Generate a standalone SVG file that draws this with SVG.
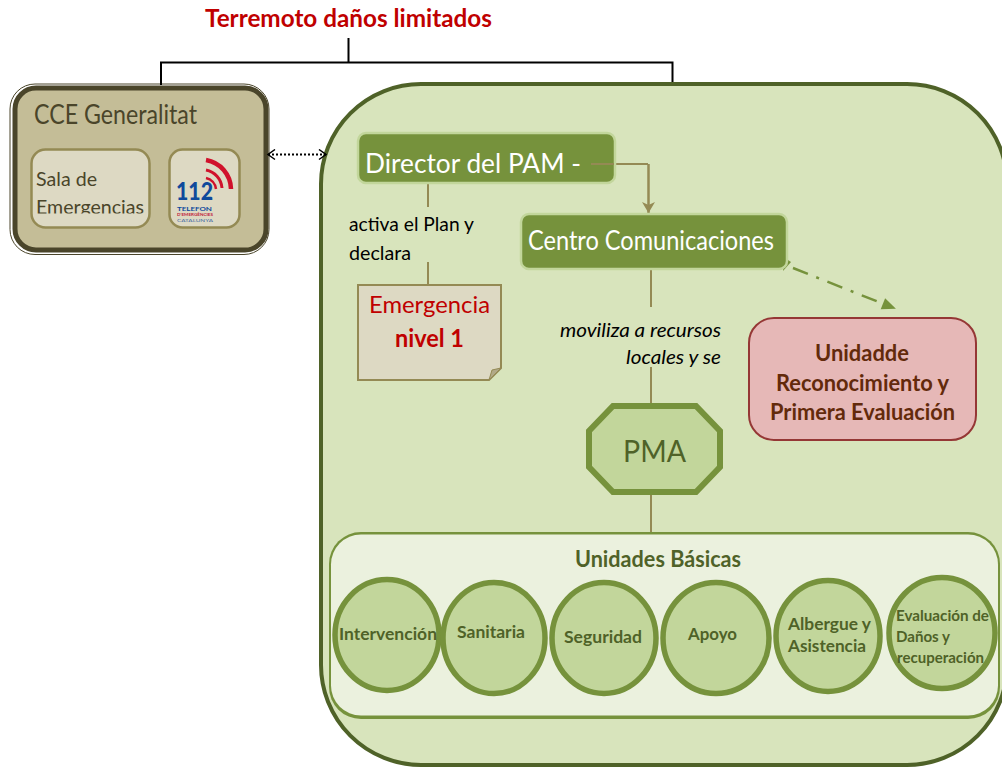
<svg xmlns="http://www.w3.org/2000/svg" width="1002" height="767" viewBox="0 0 1002 767">
<style>
text{font-family:"Lato","Open Sans","Liberation Sans",sans-serif}
.l{fill:none;stroke:#948a54;stroke-width:2}
.c{fill:#c2d69b;stroke:#76923c;stroke-width:5.500}
.u{font-weight:700;fill:#4f6228;font-size:17.500px}
.s{font-size:16px;font-weight:700;fill:#4f6228}
.w{fill:#fff;font-size:27px}
.k{fill:#000;font-size:20px}
.i{fill:#000;font-size:20px;font-style:italic}
.r{font-weight:700;fill:#632a0b;font-size:22px}
.h{fill:#ddd9c3;stroke:#948a54;stroke-width:2.500}
</style>
<defs>
<marker id="a1" markerWidth="16" markerHeight="14" refX="12" refY="7" orient="auto" markerUnits="userSpaceOnUse"><path d="M1 .5L12 7L1 13.500L4 7Z" fill="#948a54"/></marker>
<marker id="a2" markerWidth="16" markerHeight="14" refX="14" refY="7" orient="auto" markerUnits="userSpaceOnUse"><path d="M1 1L15 7L1 13Z" fill="#76923c"/></marker>
<marker id="a3" markerWidth="10" markerHeight="12" refX="8" refY="6" orient="auto-start-reverse" markerUnits="userSpaceOnUse"><path d="M1 1L8 6L1 11" fill="none" stroke="#000" stroke-width="1.500"/></marker>
<clipPath id="sala"><rect x="31" y="149" width="118" height="64.500"/></clipPath>
</defs>
<rect width="1002" height="767" fill="#fff"/>
<g id="title"><text x="205" y="27" font-size="24" font-weight="700" fill="#c00000" textLength="287" lengthAdjust="spacingAndGlyphs">Terremoto daños limitados</text></g>
<g id="pam"><rect x="321" y="84" width="686" height="681" rx="100" fill="#d8e4bc" stroke="#4f6228" stroke-width="4"/></g>
<g id="cce">
<rect x="10" y="84" width="259" height="170.500" rx="25" fill="#fff" stroke="#4a452a" stroke-width="1"/>
<rect x="15" y="88" width="251" height="162" rx="21" fill="#c4bd97" stroke="#4a452a" stroke-width="5"/>
<text x="34" y="124" font-size="26" fill="#4a452a" textLength="163" lengthAdjust="spacingAndGlyphs">CCE Generalitat</text>
</g>
<g id="sala-emergencias">
<rect x="31.500" y="149.500" width="118" height="78" rx="14" class="h"/>
<g clip-path="url(#sala)"><text x="36" y="186" font-size="20" fill="#4a452a" textLength="61" lengthAdjust="spacingAndGlyphs">Sala de</text>
<text x="36" y="214" font-size="20" fill="#4a452a" textLength="108" lengthAdjust="spacingAndGlyphs">Emergencias</text></g>
</g>
<g id="tel112">
<rect x="169.500" y="149.500" width="70" height="78" rx="13" class="h"/>
<path d="M206 160A30 30 0 0 1 231 189" fill="none" stroke="#d0112b" stroke-width="4.500"/>
<path d="M206 170A20 20 0 0 1 222 188" fill="none" stroke="#d0112b" stroke-width="3"/>
<path d="M206 178A13 13 0 0 1 216 189" fill="none" stroke="#d0112b" stroke-width="2.500"/>
<text x="176" y="200" font-size="24" font-weight="900" fill="#0f4a9c" textLength="37" lengthAdjust="spacingAndGlyphs">112</text>
<text x="177" y="210.500" font-size="5" font-weight="700" fill="#0f4a9c" textLength="35" lengthAdjust="spacingAndGlyphs">TELEFON</text>
<text x="177" y="216" font-size="4.500" font-weight="700" fill="#c0203c" textLength="36" lengthAdjust="spacingAndGlyphs">D'EMERGÈNCIES</text>
<text x="177" y="221.500" font-size="4.500" fill="#4a6fa5" textLength="36" lengthAdjust="spacingAndGlyphs">CATALUNYA</text>
</g>
<g id="connectors">
<path d="M348.500 38V62.500M161 85V62.500H672.500V82" fill="none" stroke="#000" stroke-width="2"/>
<path d="M268 154.500H326" fill="none" stroke="#000" stroke-width="2" stroke-dasharray="2 2" marker-start="url(#a3)" marker-end="url(#a3)"/>
<path d="M591 164H648" class="l"/>
<path d="M648.500 164V213" fill="none" stroke="#948a54" stroke-width="2.500" marker-end="url(#a1)"/>
<path d="M428 184V207M428 262V285M651 270V307M651 367V404M651 495V533" class="l"/>
<path d="M793 268L895 308.500" fill="none" stroke="#76923c" stroke-width="2.500" stroke-dasharray="16 9 3 9" marker-end="url(#a2)"/>
<path d="M785 258L791 262L783 271Z" fill="#76923c"/>
</g>
<g id="director"><rect x="358" y="133" width="257" height="50" rx="8" fill="#76923c" stroke="#c2d69b" stroke-width="2.500"/>
<text x="365" y="173" class="w" textLength="216" lengthAdjust="spacingAndGlyphs">Director del PAM -</text>
<path d="M591 164H614" class="l"/></g>
<g id="centro"><rect x="521" y="214" width="266" height="55" rx="8" fill="#76923c" stroke="#c2d69b" stroke-width="2.500"/>
<text x="528" y="250" class="w" style="font-size:26px" textLength="246" lengthAdjust="spacingAndGlyphs">Centro Comunicaciones</text></g>
<g id="labels">
<text x="349" y="231" class="k" textLength="125" lengthAdjust="spacingAndGlyphs">activa el Plan y</text>
<text x="349" y="260" class="k" textLength="62" lengthAdjust="spacingAndGlyphs">declara</text>
<text x="560" y="337" class="i" textLength="161" lengthAdjust="spacingAndGlyphs">moviliza a recursos</text>
<text x="626" y="364" class="i" textLength="95" lengthAdjust="spacingAndGlyphs">locales y se</text>
</g>
<g id="emergencia">
<path d="M358 285H501V368L489 380H358Z" fill="#ddd9c3" stroke="#948a54" stroke-width="2"/>
<path d="M501 368L489 380L492 370Z" fill="#b1a987" stroke="#948a54" stroke-width="1"/>
<text x="369" y="313" font-size="24" fill="#c00000" textLength="121" lengthAdjust="spacingAndGlyphs">Emergencia</text>
<text x="395" y="347" font-size="24" font-weight="700" fill="#c00000" textLength="69" lengthAdjust="spacingAndGlyphs">nivel 1</text>
</g>
<g id="unidad-reconocimiento">
<rect x="749" y="318" width="227" height="122" rx="25" fill="#e6b8b7" stroke="#953735" stroke-width="2"/>
<text x="815" y="361" class="r" textLength="94" lengthAdjust="spacingAndGlyphs">Unidadde</text>
<text x="776" y="391" class="r" textLength="173" lengthAdjust="spacingAndGlyphs">Reconocimiento y</text>
<text x="770" y="420" class="r" textLength="185" lengthAdjust="spacingAndGlyphs">Primera Evaluación</text>
</g>
<g id="pma">
<path d="M613 406H696L720 431V467L696 492H613L589 467V431Z" fill="#c2d69b" stroke="#76923c" stroke-width="6"/>
<text x="623" y="462" font-size="31" fill="#4f6228" textLength="63" lengthAdjust="spacingAndGlyphs">PMA</text>
</g>
<g id="unidades-basicas">
<rect x="329" y="532" width="671" height="187" rx="32" fill="#76923c"/>
<rect x="331" y="534.500" width="667" height="181" rx="30" fill="#ebf1de"/>
<text x="575" y="567" font-size="23" font-weight="700" fill="#4f6228" textLength="166" lengthAdjust="spacingAndGlyphs">Unidades Básicas</text>
</g>
<g id="intervencion"><ellipse cx="387" cy="635" rx="52" ry="55.500" class="c"/><text x="339" y="640" class="u" textLength="98" lengthAdjust="spacingAndGlyphs">Intervención</text></g>
<g id="sanitaria"><ellipse cx="494" cy="638" rx="51" ry="55.500" class="c"/><text x="457" y="638" class="u" textLength="68" lengthAdjust="spacingAndGlyphs">Sanitaria</text></g>
<g id="seguridad"><ellipse cx="604" cy="638" rx="52" ry="55.500" class="c"/><text x="564" y="643" class="u" textLength="78" lengthAdjust="spacingAndGlyphs">Seguridad</text></g>
<g id="apoyo"><ellipse cx="716" cy="638" rx="53" ry="55.500" class="c"/><text x="688" y="640" class="u" textLength="49" lengthAdjust="spacingAndGlyphs">Apoyo</text></g>
<g id="albergue"><ellipse cx="828" cy="636" rx="52" ry="55.500" class="c"/><text x="788" y="630" class="u" textLength="83" lengthAdjust="spacingAndGlyphs">Albergue y</text><text x="788" y="652" class="u" textLength="78" lengthAdjust="spacingAndGlyphs">Asistencia</text></g>
<g id="evaluacion"><ellipse cx="942" cy="633" rx="53" ry="55.500" class="c"/><text x="896" y="621" class="s" textLength="93" lengthAdjust="spacingAndGlyphs">Evaluación de</text><text x="896" y="642" class="s" textLength="54" lengthAdjust="spacingAndGlyphs">Daños y</text><text x="897" y="663" class="s" textLength="87" lengthAdjust="spacingAndGlyphs">recuperación</text></g>
</svg>
